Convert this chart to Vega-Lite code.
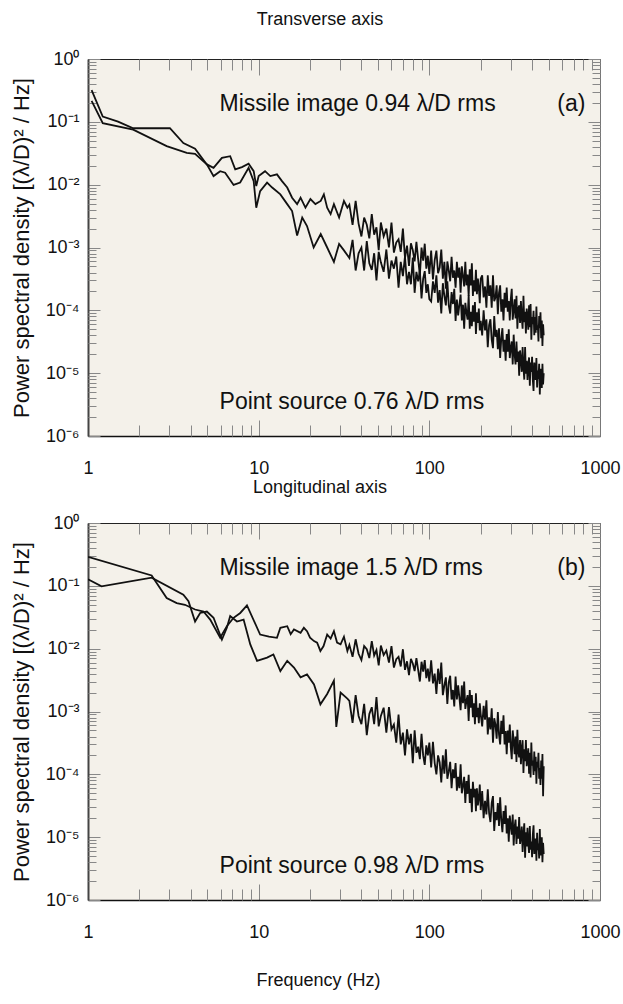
{
"$schema": "https://vega.github.io/schema/vega-lite/v6.json",
"padding": {"left": 10, "top": 11, "right": 2, "bottom": 4},
"background": "white",
"spacing": 2,
"config": {
  "view": {"fill": "#f4f1ea", "stroke": null},
  "font": "Liberation Sans",
  "title": {"fontSize": 18, "fontWeight": "normal", "color": "#111", "font": "Liberation Sans", "frame": "group", "dx": -24},
  "axis": {"grid": false, "zindex": 1, "labelFont": "Liberation Sans", "labelFontSize": 18, "labelColor": "#111", "titleFont": "Liberation Sans", "titleFontSize": 19, "titleFontWeight": "normal", "titleColor": "#111", "tickColor": "#888", "tickWidth": 1, "labelOverlap": false}
},
"datasets": {
"am": [{"f":1.05,"v":0.32},{"f":1.22,"v":0.121},{"f":1.5,"v":0.101},{"f":1.84,"v":0.079},{"f":3.02,"v":0.079},{"f":3.62,"v":0.046},{"f":4.24,"v":0.0375},{"f":4.97,"v":0.021},{"f":5.44,"v":0.0185},{"f":6.09,"v":0.0267},{"f":6.81,"v":0.0284},{"f":7.29,"v":0.0175},{"f":7.98,"v":0.019},{"f":8.73,"v":0.0215},{"f":9.35,"v":0.0164},{"f":9.68,"v":0.0095},{"f":10,"v":0.0137},{"f":10.9,"v":0.0164},{"f":11.7,"v":0.0137},{"f":12.8,"v":0.0146},{"f":13.7,"v":0.0114},{"f":14.7,"v":0.009},{"f":15.7,"v":0.0062},{"f":16.8,"v":0.0049},{"f":17.6,"v":0.0062},{"f":18.8,"v":0.0043},{"f":20.1,"v":0.0059},{"f":21.5,"v":0.0049},{"f":23.1,"v":0.0055},{"f":24.1,"v":0.007},{"f":25.2,"v":0.0043},{"f":26.4,"v":0.0034},{"f":27.6,"v":0.0049},{"f":29.6,"v":0.003},{"f":31.6,"v":0.0055},{"f":33.1,"v":0.0043},
{"f":34,"v":4.8e-3},{"f":35.5,"v":2.3e-3},{"f":37,"v":5.5e-3},{"f":38.5,"v":2.4e-3},{"f":40,"v":1.5e-3},{"f":41.5,"v":3.0e-3},{"f":43,"v":2.3e-3},{"f":44.5,"v":1.4e-3},{"f":46,"v":3.4e-3},{"f":47.5,"v":1.6e-3},{"f":49,"v":2.1e-3},{"f":50.5,"v":9.1e-4},{"f":52,"v":2.5e-3},{"f":54,"v":1.5e-3},{"f":56,"v":2.0e-3},{"f":58,"v":1.0e-3},{"f":60,"v":2.5e-3},{"f":62,"v":8.3e-4},{"f":64,"v":1.2e-3},{"f":66,"v":1.35e-3},{"f":68,"v":8.5e-4},{"f":70,"v":2.0e-3},{"f":72,"v":6.8e-4},{"f":74,"v":1.07e-3},{"f":76,"v":5.1e-4},{"f":78,"v":1.17e-3},{"f":80,"v":9.1e-4},{"f":82,"v":6.0e-4},{"f":84,"v":1.23e-3},{"f":86,"v":6.5e-4},{"f":88,"v":3.6e-4},{"f":90,"v":1.0e-3},{"f":92,"v":6.2e-4},{"f":94,"v":1.15e-3},{"f":96,"v":4.6e-4},{"f":98,"v":7.4e-4},{"f":100,"v":3.8e-4},
{"f":102.5,"v":8.9e-4},{"f":105,"v":3.1e-4},{"f":107.5,"v":6.3e-4},{"f":110,"v":8.9e-4},{"f":112.5,"v":3.9e-4},{"f":115,"v":4.8e-4},{"f":117.5,"v":9.3e-4},{"f":120,"v":3.2e-4},{"f":122.5,"v":5.9e-4},{"f":125,"v":2.2e-4},{"f":127.5,"v":6.0e-4},{"f":130,"v":4.3e-4},{"f":132.5,"v":2.9e-4},{"f":135,"v":7.1e-4},{"f":137.5,"v":3.3e-4},{"f":140,"v":4.3e-4},{"f":142.5,"v":2.3e-4},{"f":145,"v":5.9e-4},{"f":147.5,"v":3.3e-4},{"f":150,"v":4.8e-4},{"f":152.5,"v":1.9e-4},{"f":155,"v":5.0e-4},{"f":157.5,"v":3.5e-4},{"f":160,"v":2.4e-4},{"f":162.5,"v":5.9e-4},{"f":165,"v":2.5e-4},{"f":167.5,"v":3.7e-4},{"f":170,"v":1.7e-4},{"f":172.5,"v":4.5e-4},{"f":175,"v":2.5e-4},{"f":177.5,"v":5.6e-4},{"f":180,"v":1.7e-4},{"f":182.5,"v":3.0e-4},{"f":185,"v":2.0e-4},{"f":187.5,"v":4.4e-4},{"f":190,"v":1.8e-4},{"f":192.5,"v":3.2e-4},{"f":195,"v":2.3e-4},{"f":197.5,"v":1.3e-4},{"f":200,"v":3.2e-4},
{"f":204,"v":3.6e-4},{"f":208,"v":1.6e-4},{"f":212,"v":2.4e-4},{"f":216,"v":1.1e-4},{"f":220,"v":3.6e-4},{"f":224,"v":1.7e-4},{"f":228,"v":2.5e-4},{"f":232,"v":1.1e-4},{"f":236,"v":3.6e-4},{"f":240,"v":1.4e-4},{"f":244,"v":1.6e-4},{"f":248,"v":2.5e-4},{"f":252,"v":8.7e-5},{"f":256,"v":1.9e-4},{"f":260,"v":2.5e-4},{"f":264,"v":9.5e-5},{"f":268,"v":1.5e-4},{"f":272,"v":6.9e-5},{"f":276,"v":1.9e-4},{"f":280,"v":1.1e-4},{"f":284,"v":2.3e-4},{"f":288,"v":9.5e-5},{"f":292,"v":1.4e-4},{"f":296,"v":6.9e-5},{"f":300,"v":1.5e-4},{"f":304,"v":2.2e-4},{"f":308,"v":7.1e-5},{"f":312,"v":1.0e-4},{"f":316,"v":1.5e-4},{"f":320,"v":7.4e-5},{"f":324,"v":1.7e-4},{"f":328,"v":5.1e-5},{"f":332,"v":1.05e-4},{"f":336,"v":1.2e-4},{"f":340,"v":6.3e-5},{"f":344,"v":1.4e-4},{"f":348,"v":7.6e-5},{"f":352,"v":5.1e-5},{"f":356,"v":1.7e-4},{"f":360,"v":6.5e-5},{"f":364,"v":9.5e-5},{"f":368,"v":4.3e-5},{"f":372,"v":1.07e-4},{"f":376,"v":7.9e-5},{"f":380,"v":4.9e-5},{"f":384,"v":1.2e-4},{"f":388,"v":5.4e-5},{"f":392,"v":1.26e-4},{"f":396,"v":3.4e-5},{"f":400,"v":7.8e-5},{"f":404,"v":6.0e-5},{"f":408,"v":9.8e-5},{"f":412,"v":4.0e-5},{"f":416,"v":7.8e-5},{"f":420,"v":4.4e-5},{"f":424,"v":1.15e-4},{"f":428,"v":4.9e-5},{"f":432,"v":5.8e-5},{"f":436,"v":3.2e-5},{"f":440,"v":8.1e-5},{"f":444,"v":5.2e-5},{"f":448,"v":9.3e-5},{"f":452,"v":3.6e-5},{"f":456,"v":6.9e-5},{"f":460,"v":2.7e-5},{"f":464,"v":6.0e-5},{"f":468,"v":4.0e-5}],
"ap": [{"f":1.05,"v":0.215},{"f":1.22,"v":0.095},{"f":1.84,"v":0.075},{"f":2.89,"v":0.041},{"f":3.79,"v":0.032},{"f":4.24,"v":0.031},{"f":4.97,"v":0.021},{"f":5.44,"v":0.0137},{"f":5.95,"v":0.0164},{"f":6.36,"v":0.0155},{"f":7.13,"v":0.0099},{"f":7.79,"v":0.0108},{"f":8.73,"v":0.0185},{"f":9.35,"v":0.0114},{"f":9.68,"v":0.0043},{"f":10.2,"v":0.0079},{"f":11.2,"v":0.0108},{"f":12,"v":0.009},{"f":13.4,"v":0.007},{"f":14.7,"v":0.0049},{"f":15.7,"v":0.0038},{"f":16.8,"v":0.00155},{"f":18,"v":0.003},{"f":19.2,"v":0.0022},{"f":21,"v":0.001},{"f":23.1,"v":0.00164},{"f":25.2,"v":0.001},{"f":27.6,"v":0.00059},{"f":29.6,"v":0.00114},{"f":31.6,"v":0.0009},
{"f":34,"v":6.8e-4},{"f":35.5,"v":1.32e-3},{"f":37,"v":4.3e-4},{"f":38.5,"v":8.1e-4},{"f":40,"v":1.0e-3},{"f":41.5,"v":4.3e-4},{"f":43,"v":1.26e-3},{"f":44.5,"v":5.6e-4},{"f":46,"v":4.4e-4},{"f":47.5,"v":8.1e-4},{"f":49,"v":3.0e-4},{"f":50.5,"v":8.5e-4},{"f":52,"v":5.8e-4},{"f":54,"v":4.1e-4},{"f":56,"v":9.3e-4},{"f":58,"v":3.2e-4},{"f":60,"v":6.2e-4},{"f":62,"v":4.6e-4},{"f":64,"v":7.2e-4},{"f":66,"v":2.3e-4},{"f":68,"v":5.9e-4},{"f":70,"v":3.5e-4},{"f":72,"v":7.2e-4},{"f":74,"v":2.6e-4},{"f":76,"v":4.1e-4},{"f":78,"v":2.6e-4},{"f":80,"v":6.9e-4},{"f":82,"v":1.9e-4},{"f":84,"v":4.1e-4},{"f":86,"v":2.9e-4},{"f":88,"v":4.3e-4},{"f":90,"v":1.55e-4},{"f":92,"v":3.2e-4},{"f":94,"v":4.2e-4},{"f":96,"v":1.9e-4},{"f":98,"v":2.6e-4},{"f":100,"v":1.5e-4},
{"f":102.5,"v":1.38e-4},{"f":105,"v":2.9e-4},{"f":107.5,"v":1.9e-4},{"f":110,"v":3.6e-4},{"f":112.5,"v":1.32e-4},{"f":115,"v":2.1e-4},{"f":117.5,"v":8.9e-5},{"f":120,"v":2.7e-4},{"f":122.5,"v":1.7e-4},{"f":125,"v":1.2e-4},{"f":127.5,"v":2.9e-4},{"f":130,"v":1.2e-4},{"f":132.5,"v":8.9e-5},{"f":135,"v":1.95e-4},{"f":137.5,"v":1.26e-4},{"f":140,"v":2.2e-4},{"f":142.5,"v":6.8e-5},{"f":145,"v":1.48e-4},{"f":147.5,"v":8.3e-5},{"f":150,"v":1.23e-4},{"f":152.5,"v":1.78e-4},{"f":155,"v":6.9e-5},{"f":157.5,"v":1.23e-4},{"f":160,"v":5.1e-5},{"f":162.5,"v":1.32e-4},{"f":165,"v":9.3e-5},{"f":167.5,"v":7.1e-5},{"f":170,"v":1.74e-4},{"f":172.5,"v":5.1e-5},{"f":175,"v":9.5e-5},{"f":177.5,"v":5.6e-5},{"f":180,"v":1.2e-4},{"f":182.5,"v":6.6e-5},{"f":185,"v":1.35e-4},{"f":187.5,"v":4.2e-5},{"f":190,"v":9.3e-5},{"f":192.5,"v":6.3e-5},{"f":195,"v":1.07e-4},{"f":197.5,"v":4.8e-5},{"f":200,"v":6.8e-5},
{"f":204,"v":4.0e-5},{"f":208,"v":1.0e-4},{"f":212,"v":4.8e-5},{"f":216,"v":7.2e-5},{"f":220,"v":2.6e-5},{"f":224,"v":5.8e-5},{"f":228,"v":7.2e-5},{"f":232,"v":3.4e-5},{"f":236,"v":2.5e-5},{"f":240,"v":8.1e-5},{"f":244,"v":3.8e-5},{"f":248,"v":4.9e-5},{"f":252,"v":2.4e-5},{"f":256,"v":5.2e-5},{"f":260,"v":1.74e-5},{"f":264,"v":3.6e-5},{"f":268,"v":5.2e-5},{"f":272,"v":2.2e-5},{"f":276,"v":3.4e-5},{"f":280,"v":1.58e-5},{"f":284,"v":4.2e-5},{"f":288,"v":2.2e-5},{"f":292,"v":5.0e-5},{"f":296,"v":1.74e-5},{"f":300,"v":2.5e-5},{"f":304,"v":3.2e-5},{"f":308,"v":1.38e-5},{"f":312,"v":4.1e-5},{"f":316,"v":2.0e-5},{"f":320,"v":1.38e-5},{"f":324,"v":3.2e-5},{"f":328,"v":1.51e-5},{"f":332,"v":2.2e-5},{"f":336,"v":9.1e-6},{"f":340,"v":2.3e-5},{"f":344,"v":1.66e-5},{"f":348,"v":1.05e-5},{"f":352,"v":2.6e-5},{"f":356,"v":1.23e-5},{"f":360,"v":7.9e-6},{"f":364,"v":2.6e-5},{"f":368,"v":9.8e-6},{"f":372,"v":1.58e-5},{"f":376,"v":7.8e-6},{"f":380,"v":1.32e-5},{"f":384,"v":1.78e-5},{"f":388,"v":6.3e-6},{"f":392,"v":1.48e-5},{"f":396,"v":1.05e-5},{"f":400,"v":1.82e-5},{"f":404,"v":7.8e-6},{"f":408,"v":5.2e-6},{"f":412,"v":1.48e-5},{"f":416,"v":1.15e-5},{"f":420,"v":7.8e-6},{"f":424,"v":1.74e-5},{"f":428,"v":5.9e-6},{"f":432,"v":1.1e-5},{"f":436,"v":8.1e-6},{"f":440,"v":1.41e-5},{"f":444,"v":4.6e-6},{"f":448,"v":1.17e-5},{"f":452,"v":8.3e-6},{"f":456,"v":5.8e-6},{"f":460,"v":1.41e-5},{"f":464,"v":6.6e-6},{"f":468,"v":1.0e-5}],
"bm": [{"f":1,"v":0.29},{"f":2.36,"v":0.146},{"f":2.89,"v":0.064},{"f":3.31,"v":0.053},{"f":3.7,"v":0.05},{"f":4.24,"v":0.042},{"f":4.75,"v":0.039},{"f":5.2,"v":0.029},{"f":5.95,"v":0.0149},{"f":6.51,"v":0.0228},{"f":7.13,"v":0.031},{"f":7.8,"v":0.037},{"f":8.54,"v":0.049},{"f":10.2,"v":0.0168},{"f":11.5,"v":0.0155},{"f":12.8,"v":0.0149},{"f":13.4,"v":0.0215},{"f":14.7,"v":0.0228},{"f":15.4,"v":0.017},{"f":16.1,"v":0.0202},{"f":17.6,"v":0.0179},{"f":18.4,"v":0.0215},{"f":19.2,"v":0.019},{"f":20,"v":0.015},{"f":21.1,"v":0.0132},{"f":22,"v":0.0125},{"f":23,"v":0.0092},{"f":24,"v":0.011},{"f":25.2,"v":0.0168},{"f":26.4,"v":0.0145},{"f":27.6,"v":0.019},{"f":28.8,"v":0.0125},{"f":30.2,"v":0.0117},{"f":31.6,"v":0.0155},{"f":33.1,"v":0.0092},
{"f":34,"v":1.15e-2},{"f":35.5,"v":7.4e-3},{"f":37,"v":1.41e-2},{"f":38.5,"v":8.3e-3},{"f":40,"v":6.6e-3},{"f":41.5,"v":1.1e-2},{"f":43,"v":9.8e-3},{"f":44.5,"v":7.1e-3},{"f":46,"v":1.32e-2},{"f":47.5,"v":7.8e-3},{"f":49,"v":9.5e-3},{"f":50.5,"v":5.4e-3},{"f":52,"v":1.12e-2},{"f":54,"v":7.9e-3},{"f":56,"v":9.3e-3},{"f":58,"v":6.0e-3},{"f":60,"v":1.1e-2},{"f":62,"v":5.0e-3},{"f":64,"v":6.8e-3},{"f":66,"v":7.4e-3},{"f":68,"v":5.2e-3},{"f":70,"v":9.8e-3},{"f":72,"v":4.6e-3},{"f":74,"v":6.3e-3},{"f":76,"v":3.8e-3},{"f":78,"v":6.9e-3},{"f":80,"v":5.8e-3},{"f":82,"v":4.4e-3},{"f":84,"v":7.1e-3},{"f":86,"v":4.6e-3},{"f":88,"v":3.0e-3},{"f":90,"v":6.2e-3},{"f":92,"v":4.3e-3},{"f":94,"v":6.6e-3},{"f":96,"v":3.4e-3},{"f":98,"v":4.8e-3},{"f":100,"v":3.0e-3},
{"f":102.5,"v":6.5e-3},{"f":105,"v":2.8e-3},{"f":107.5,"v":4.0e-3},{"f":110,"v":1.9e-3},{"f":112.5,"v":4.8e-3},{"f":115,"v":2.75e-3},{"f":117.5,"v":6.0e-3},{"f":120,"v":1.82e-3},{"f":122.5,"v":2.6e-3},{"f":125,"v":3.5e-3},{"f":127.5,"v":1.32e-3},{"f":130,"v":2.9e-3},{"f":132.5,"v":3.7e-3},{"f":135,"v":1.55e-3},{"f":137.5,"v":2.2e-3},{"f":140,"v":1.2e-3},{"f":142.5,"v":3.6e-3},{"f":145,"v":1.55e-3},{"f":147.5,"v":2.6e-3},{"f":150,"v":1.66e-3},{"f":152.5,"v":1.05e-3},{"f":155,"v":2.6e-3},{"f":157.5,"v":1.35e-3},{"f":160,"v":3.0e-3},{"f":162.5,"v":1.1e-3},{"f":165,"v":1.48e-3},{"f":167.5,"v":1.82e-3},{"f":170,"v":7.1e-4},{"f":172.5,"v":2.2e-3},{"f":175,"v":1.15e-3},{"f":177.5,"v":1.82e-3},{"f":180,"v":8.1e-4},{"f":182.5,"v":1.35e-3},{"f":185,"v":6.3e-4},{"f":187.5,"v":1.95e-3},{"f":190,"v":8.1e-4},{"f":192.5,"v":1.15e-3},{"f":195,"v":6.5e-4},{"f":197.5,"v":1.35e-3},{"f":200,"v":9.1e-4},
{"f":204,"v":5.8e-4},{"f":208,"v":1.23e-3},{"f":212,"v":7.4e-4},{"f":216,"v":1.51e-3},{"f":220,"v":4.3e-4},{"f":224,"v":8.1e-4},{"f":228,"v":5.2e-4},{"f":232,"v":1.12e-3},{"f":236,"v":3.2e-4},{"f":240,"v":7.8e-4},{"f":244,"v":6.2e-4},{"f":248,"v":3.7e-4},{"f":252,"v":9.8e-4},{"f":256,"v":4.3e-4},{"f":260,"v":3.0e-4},{"f":264,"v":7.1e-4},{"f":268,"v":4.4e-4},{"f":272,"v":8.7e-4},{"f":276,"v":3.0e-4},{"f":280,"v":4.9e-4},{"f":284,"v":2.1e-4},{"f":288,"v":5.0e-4},{"f":292,"v":3.2e-4},{"f":296,"v":6.2e-4},{"f":300,"v":2.7e-4},{"f":304,"v":1.74e-4},{"f":308,"v":5.0e-4},{"f":312,"v":3.4e-4},{"f":316,"v":2.1e-4},{"f":320,"v":4.0e-4},{"f":324,"v":1.58e-4},{"f":328,"v":5.1e-4},{"f":332,"v":2.3e-4},{"f":336,"v":1.86e-4},{"f":340,"v":3.5e-4},{"f":344,"v":1.45e-4},{"f":348,"v":2.6e-4},{"f":352,"v":3.5e-4},{"f":356,"v":1.05e-4},{"f":360,"v":2.5e-4},{"f":364,"v":1.62e-4},{"f":368,"v":3.5e-4},{"f":372,"v":1.35e-4},{"f":376,"v":1.7e-4},{"f":380,"v":2.6e-4},{"f":384,"v":1.02e-4},{"f":388,"v":2.2e-4},{"f":392,"v":8.9e-5},{"f":396,"v":3.2e-4},{"f":400,"v":1.38e-4},{"f":404,"v":1.66e-4},{"f":408,"v":9.8e-5},{"f":412,"v":2.3e-4},{"f":416,"v":1.12e-4},{"f":420,"v":1.9e-4},{"f":424,"v":7.1e-5},{"f":428,"v":1.58e-4},{"f":432,"v":1.29e-4},{"f":436,"v":2.2e-4},{"f":440,"v":8.5e-5},{"f":444,"v":1.26e-4},{"f":448,"v":6.8e-5},{"f":452,"v":1.66e-4},{"f":456,"v":8.5e-5},{"f":460,"v":2.1e-4},{"f":464,"v":4.5e-5},{"f":468,"v":1.35e-4}],
"bp": [{"f":1,"v":0.127},{"f":1.2,"v":0.098},{"f":2.36,"v":0.135},{"f":3.62,"v":0.072},{"f":3.88,"v":0.057},{"f":4.24,"v":0.027},{"f":4.54,"v":0.037},{"f":4.97,"v":0.039},{"f":5.44,"v":0.031},{"f":6.09,"v":0.014},{"f":6.51,"v":0.0215},{"f":6.81,"v":0.033},{"f":7.46,"v":0.027},{"f":8.16,"v":0.029},{"f":8.93,"v":0.0117},{"f":9.78,"v":0.0064},{"f":11.2,"v":0.0072},{"f":12.2,"v":0.0081},{"f":13.4,"v":0.0044},{"f":14.7,"v":0.0064},{"f":16.1,"v":0.005},{"f":17.6,"v":0.0035},{"f":19.2,"v":0.0039},{"f":21.1,"v":0.0027},{"f":23,"v":0.0013},{"f":25.2,"v":0.0019},{"f":27.6,"v":0.0031},{"f":28.5,"v":0.00057},{"f":30.2,"v":0.002},{"f":33.1,"v":0.0016},
{"f":34,"v":1.48e-3},{"f":35.5,"v":6.6e-4},{"f":37,"v":1.82e-3},{"f":38.5,"v":8.5e-4},{"f":40,"v":6.3e-4},{"f":41.5,"v":1.32e-3},{"f":43,"v":4.2e-4},{"f":44.5,"v":9.1e-4},{"f":46,"v":1.17e-3},{"f":47.5,"v":6.3e-4},{"f":49,"v":1.7e-3},{"f":50.5,"v":5.8e-4},{"f":52,"v":8.5e-4},{"f":54,"v":1.15e-3},{"f":56,"v":4.6e-4},{"f":58,"v":1.17e-3},{"f":60,"v":5.2e-4},{"f":62,"v":6.2e-4},{"f":64,"v":3.2e-4},{"f":66,"v":8.9e-4},{"f":68,"v":3.0e-4},{"f":70,"v":4.6e-4},{"f":72,"v":2.0e-4},{"f":74,"v":5.2e-4},{"f":76,"v":3.0e-4},{"f":78,"v":4.4e-4},{"f":80,"v":1.5e-4},{"f":82,"v":5.0e-4},{"f":84,"v":2.2e-4},{"f":86,"v":2.75e-4},{"f":88,"v":1.74e-4},{"f":90,"v":4.4e-4},{"f":92,"v":2.0e-4},{"f":94,"v":1.41e-4},{"f":96,"v":2.9e-4},{"f":98,"v":2.0e-4},{"f":100,"v":3.2e-4},
{"f":102.5,"v":1.29e-4},{"f":105,"v":3.3e-4},{"f":107.5,"v":1.51e-4},{"f":110,"v":1.0e-4},{"f":112.5,"v":2.0e-4},{"f":115,"v":1.55e-4},{"f":117.5,"v":7.4e-5},{"f":120,"v":2.0e-4},{"f":122.5,"v":1.02e-4},{"f":125,"v":2.5e-4},{"f":127.5,"v":8.5e-5},{"f":130,"v":1.12e-4},{"f":132.5,"v":1.58e-4},{"f":135,"v":6.0e-5},{"f":137.5,"v":1.2e-4},{"f":140,"v":8.7e-5},{"f":142.5,"v":1.51e-4},{"f":145,"v":5.5e-5},{"f":147.5,"v":9.1e-5},{"f":150,"v":6.0e-5},{"f":152.5,"v":1.45e-4},{"f":155,"v":5.0e-5},{"f":157.5,"v":6.6e-5},{"f":160,"v":9.1e-5},{"f":162.5,"v":3.5e-5},{"f":165,"v":7.8e-5},{"f":167.5,"v":4.9e-5},{"f":170,"v":9.8e-5},{"f":172.5,"v":3.5e-5},{"f":175,"v":5.9e-5},{"f":177.5,"v":2.5e-5},{"f":180,"v":7.6e-5},{"f":182.5,"v":4.3e-5},{"f":185,"v":5.9e-5},{"f":187.5,"v":2.6e-5},{"f":190,"v":6.0e-5},{"f":192.5,"v":3.2e-5},{"f":195,"v":4.2e-5},{"f":197.5,"v":6.9e-5},{"f":200,"v":2.7e-5},
{"f":204,"v":5.4e-5},{"f":208,"v":2.0e-5},{"f":212,"v":3.8e-5},{"f":216,"v":2.3e-5},{"f":220,"v":5.8e-5},{"f":224,"v":2.4e-5},{"f":228,"v":1.74e-5},{"f":232,"v":3.5e-5},{"f":236,"v":4.5e-5},{"f":240,"v":1.26e-5},{"f":244,"v":2.5e-5},{"f":248,"v":1.86e-5},{"f":252,"v":3.5e-5},{"f":256,"v":1.51e-5},{"f":260,"v":4.3e-5},{"f":264,"v":1.86e-5},{"f":268,"v":1.2e-5},{"f":272,"v":2.6e-5},{"f":276,"v":1.62e-5},{"f":280,"v":3.2e-5},{"f":284,"v":1.15e-5},{"f":288,"v":2.0e-5},{"f":292,"v":8.5e-6},{"f":296,"v":2.2e-5},{"f":300,"v":1.51e-5},{"f":304,"v":1.1e-5},{"f":308,"v":2.3e-5},{"f":312,"v":7.4e-6},{"f":316,"v":1.45e-5},{"f":320,"v":1.9e-5},{"f":324,"v":7.8e-6},{"f":328,"v":1.48e-5},{"f":332,"v":9.5e-6},{"f":336,"v":2.1e-5},{"f":340,"v":7.8e-6},{"f":344,"v":1.0e-5},{"f":348,"v":1.48e-5},{"f":352,"v":5.8e-6},{"f":356,"v":1.12e-5},{"f":360,"v":1.66e-5},{"f":364,"v":4.7e-6},{"f":368,"v":1.2e-5},{"f":372,"v":7.1e-6},{"f":376,"v":1.41e-5},{"f":380,"v":7.9e-6},{"f":384,"v":5.6e-6},{"f":388,"v":1.51e-5},{"f":392,"v":6.3e-6},{"f":396,"v":8.5e-6},{"f":400,"v":4.8e-6},{"f":404,"v":1.1e-5},{"f":408,"v":1.55e-5},{"f":412,"v":5.4e-6},{"f":416,"v":6.6e-6},{"f":420,"v":9.5e-6},{"f":424,"v":4.2e-6},{"f":428,"v":1.17e-5},{"f":432,"v":6.2e-6},{"f":436,"v":7.9e-6},{"f":440,"v":4.6e-6},{"f":444,"v":1.35e-5},{"f":448,"v":5.1e-6},{"f":452,"v":6.9e-6},{"f":456,"v":1.0e-5},{"f":460,"v":4.0e-6},{"f":464,"v":8.1e-6},{"f":468,"v":5.4e-6}]
},
"vconcat": [
{
  "width": 512, "height": 377,
  "title": {"text": "Transverse axis", "anchor": "middle", "offset": 21},
  "layer": [
    {"data": {"name": "am"}, "mark": {"type": "line", "color": "#111", "strokeWidth": 1.8, "clip": true},
     "encoding": {
       "x": {"field": "f", "type": "quantitative", "scale": {"type": "log", "domain": [1, 1000], "nice": false},
             "axis": {"orient": "bottom", "values": [1,10,100,1000], "format": "d", "labelFlush": false, "tickSize": -16, "labelPadding": 39, "domainColor": "#111", "domainWidth": 1.5, "title": null}},
       "y": {"field": "v", "type": "quantitative", "scale": {"type": "log", "domain": [0.000001, 1], "nice": false},
             "axis": {"orient": "left", "values": [0.000001,0.00001,0.0001,0.001,0.01,0.1,1],
                      "labelExpr": "datum.value == 1 ? '10⁰' : datum.value == 0.1 ? '10⁻¹' : datum.value == 0.01 ? '10⁻²' : datum.value == 0.001 ? '10⁻³' : datum.value == 0.0001 ? '10⁻⁴' : datum.value == 0.00001 ? '10⁻⁵' : '10⁻⁶'",
                      "tickSize": -12, "labelPadding": 21, "domainColor": "#444", "domainWidth": 2,
                      "title": "Power spectral density [(λ/D)² / Hz]", "titleFontSize": 22, "titlePadding": 12}}
     }},
    {"data": {"name": "ap"}, "mark": {"type": "line", "color": "#111", "strokeWidth": 1.8, "clip": true},
     "encoding": {
       "x": {"field": "f", "type": "quantitative",
             "axis": {"orient": "top", "values": [1,10,100,1000], "labels": false, "tickSize": -16, "domainColor": "#222", "domainWidth": 1.2, "title": null}},
       "y": {"field": "v", "type": "quantitative",
             "axis": {"orient": "right", "values": [0.000001,0.00001,0.0001,0.001,0.01,0.1,1], "labels": false, "tickSize": -12, "domainColor": "#777", "domainWidth": 1, "title": null}}
     }},
    {"data": {"values": [{}]}, "mark": {"type": "text", "align": "left", "baseline": "middle", "fontSize": 23, "color": "#111", "text": "Missile image  0.94 λ/D rms"},
     "encoding": {
       "x": {"datum": 5.9, "type": "quantitative", "axis": {"orient": "bottom", "values": [2,3,4,5,6,7,8,9,20,30,40,50,60,70,80,90,200,300,400,500,600,700,800,900], "labels": false, "domain": false, "tickSize": -11, "title": null}},
       "y": {"datum": 0.19, "type": "quantitative", "axis": {"orient": "left", "values": [0.000002,0.000003,0.000004,0.000005,0.000006,0.000007,0.000008,0.000009,0.00002,0.00003,0.00004,0.00005,0.00006,0.00007,0.00008,0.00009,0.0002,0.0003,0.0004,0.0005,0.0006,0.0007,0.0008,0.0009,0.002,0.003,0.004,0.005,0.006,0.007,0.008,0.009,0.02,0.03,0.04,0.05,0.06,0.07,0.08,0.09,0.2,0.3,0.4,0.5,0.6,0.7,0.8,0.9], "labels": false, "domain": false, "tickSize": -8, "title": null}}}},
    {"data": {"values": [{}]}, "mark": {"type": "text", "align": "center", "baseline": "middle", "fontSize": 23, "color": "#111", "text": "(a)"},
     "encoding": {
       "x": {"datum": 680, "type": "quantitative", "axis": {"orient": "top", "values": [2,3,4,5,6,7,8,9,20,30,40,50,60,70,80,90,200,300,400,500,600,700,800,900], "labels": false, "domain": false, "tickSize": -11, "title": null}},
       "y": {"datum": 0.19, "type": "quantitative", "axis": {"orient": "right", "values": [0.000002,0.000003,0.000004,0.000005,0.000006,0.000007,0.000008,0.000009,0.00002,0.00003,0.00004,0.00005,0.00006,0.00007,0.00008,0.00009,0.0002,0.0003,0.0004,0.0005,0.0006,0.0007,0.0008,0.0009,0.002,0.003,0.004,0.005,0.006,0.007,0.008,0.009,0.02,0.03,0.04,0.05,0.06,0.07,0.08,0.09,0.2,0.3,0.4,0.5,0.6,0.7,0.8,0.9], "labels": false, "domain": false, "tickSize": -8, "title": null}}}},
    {"data": {"values": [{}]}, "mark": {"type": "text", "align": "left", "baseline": "middle", "fontSize": 23, "color": "#111", "text": "Point source  0.76 λ/D rms"},
     "encoding": {"x": {"datum": 5.9, "type": "quantitative", "axis": null}, "y": {"datum": 0.0000035, "type": "quantitative", "axis": null}}}
  ],
  "resolve": {"axis": {"x": "independent", "y": "independent"}}
},
{
  "width": 512, "height": 377,
  "title": {"text": "Longitudinal axis", "anchor": "middle", "offset": 17},
  "layer": [
    {"data": {"name": "bm"}, "mark": {"type": "line", "color": "#111", "strokeWidth": 1.8, "clip": true},
     "encoding": {
       "x": {"field": "f", "type": "quantitative", "scale": {"type": "log", "domain": [1, 1000], "nice": false},
             "axis": {"orient": "bottom", "values": [1,10,100,1000], "format": "d", "labelFlush": false, "tickSize": -16, "labelPadding": 39, "domainColor": "#111", "domainWidth": 1.5, "title": "Frequency (Hz)", "titleFontSize": 18, "titlePadding": 30, "titleX": 230}},
       "y": {"field": "v", "type": "quantitative", "scale": {"type": "log", "domain": [0.000001, 1], "nice": false},
             "axis": {"orient": "left", "values": [0.000001,0.00001,0.0001,0.001,0.01,0.1,1],
                      "labelExpr": "datum.value == 1 ? '10⁰' : datum.value == 0.1 ? '10⁻¹' : datum.value == 0.01 ? '10⁻²' : datum.value == 0.001 ? '10⁻³' : datum.value == 0.0001 ? '10⁻⁴' : datum.value == 0.00001 ? '10⁻⁵' : '10⁻⁶'",
                      "tickSize": -12, "labelPadding": 21, "domainColor": "#444", "domainWidth": 2,
                      "title": "Power spectral density [(λ/D)² / Hz]", "titleFontSize": 22, "titlePadding": 12}}
     }},
    {"data": {"name": "bp"}, "mark": {"type": "line", "color": "#111", "strokeWidth": 1.8, "clip": true},
     "encoding": {
       "x": {"field": "f", "type": "quantitative",
             "axis": {"orient": "top", "values": [1,10,100,1000], "labels": false, "tickSize": -16, "domainColor": "#222", "domainWidth": 1.2, "title": null}},
       "y": {"field": "v", "type": "quantitative",
             "axis": {"orient": "right", "values": [0.000001,0.00001,0.0001,0.001,0.01,0.1,1], "labels": false, "tickSize": -12, "domainColor": "#777", "domainWidth": 1, "title": null}}
     }},
    {"data": {"values": [{}]}, "mark": {"type": "text", "align": "left", "baseline": "middle", "fontSize": 23, "color": "#111", "text": "Missile image  1.5 λ/D rms"},
     "encoding": {
       "x": {"datum": 5.9, "type": "quantitative", "axis": {"orient": "bottom", "values": [2,3,4,5,6,7,8,9,20,30,40,50,60,70,80,90,200,300,400,500,600,700,800,900], "labels": false, "domain": false, "tickSize": -11, "title": null}},
       "y": {"datum": 0.19, "type": "quantitative", "axis": {"orient": "left", "values": [0.000002,0.000003,0.000004,0.000005,0.000006,0.000007,0.000008,0.000009,0.00002,0.00003,0.00004,0.00005,0.00006,0.00007,0.00008,0.00009,0.0002,0.0003,0.0004,0.0005,0.0006,0.0007,0.0008,0.0009,0.002,0.003,0.004,0.005,0.006,0.007,0.008,0.009,0.02,0.03,0.04,0.05,0.06,0.07,0.08,0.09,0.2,0.3,0.4,0.5,0.6,0.7,0.8,0.9], "labels": false, "domain": false, "tickSize": -8, "title": null}}}},
    {"data": {"values": [{}]}, "mark": {"type": "text", "align": "center", "baseline": "middle", "fontSize": 23, "color": "#111", "text": "(b)"},
     "encoding": {
       "x": {"datum": 680, "type": "quantitative", "axis": {"orient": "top", "values": [2,3,4,5,6,7,8,9,20,30,40,50,60,70,80,90,200,300,400,500,600,700,800,900], "labels": false, "domain": false, "tickSize": -11, "title": null}},
       "y": {"datum": 0.19, "type": "quantitative", "axis": {"orient": "right", "values": [0.000002,0.000003,0.000004,0.000005,0.000006,0.000007,0.000008,0.000009,0.00002,0.00003,0.00004,0.00005,0.00006,0.00007,0.00008,0.00009,0.0002,0.0003,0.0004,0.0005,0.0006,0.0007,0.0008,0.0009,0.002,0.003,0.004,0.005,0.006,0.007,0.008,0.009,0.02,0.03,0.04,0.05,0.06,0.07,0.08,0.09,0.2,0.3,0.4,0.5,0.6,0.7,0.8,0.9], "labels": false, "domain": false, "tickSize": -8, "title": null}}}},
    {"data": {"values": [{}]}, "mark": {"type": "text", "align": "left", "baseline": "middle", "fontSize": 23, "color": "#111", "text": "Point source  0.98 λ/D rms"},
     "encoding": {"x": {"datum": 5.9, "type": "quantitative", "axis": null}, "y": {"datum": 0.0000035, "type": "quantitative", "axis": null}}}
  ],
  "resolve": {"axis": {"x": "independent", "y": "independent"}}
}
]
}
